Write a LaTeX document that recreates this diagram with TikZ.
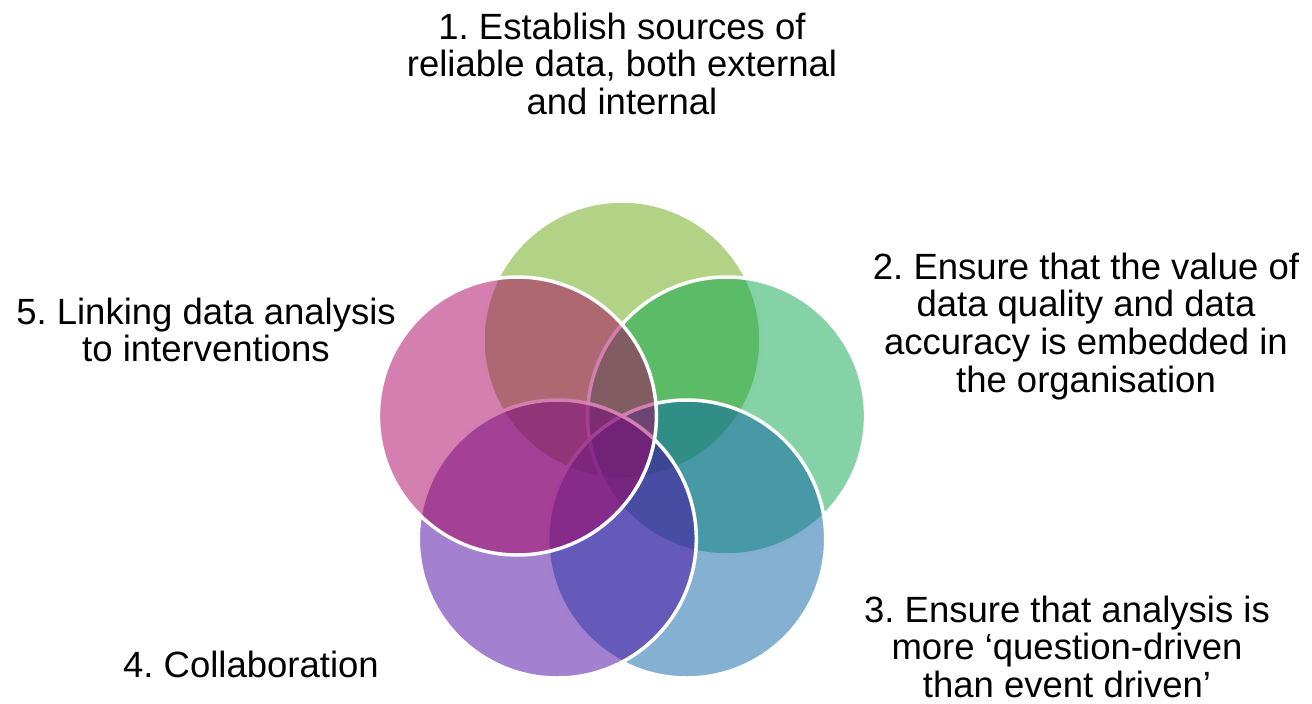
\documentclass[tikz,border=0pt]{standalone}
\usepackage{fontspec}
\setmainfont{Liberation Sans}
\frenchspacing
\definecolor{cA}{RGB}{101,167,11}
\definecolor{cB}{RGB}{9,165,75}
\definecolor{cC}{RGB}{9,97,165}
\definecolor{cD}{RGB}{71,3,161}
\definecolor{cE}{RGB}{169,0,95}
\tikzset{
  venn/.style={circle, minimum size=278pt, inner sep=0pt, fill opacity=0.5, draw opacity=1, draw=white, line width=3.5pt},
  lbl/.style={font=\fontsize{36.5}{37.5}\selectfont\frenchspacing, inner sep=0pt, anchor=base, text=black},
  lbltight/.style={lbl, font=\fontsize{36.5}{37}\selectfont\frenchspacing}
}
\begin{document}
\begin{tikzpicture}[x=1pt,y=-1pt]
\useasboundingbox (0,0) rectangle (1312,704);
\node[venn, fill=cA] (c1) at (622,340) {};
\node[venn, fill=cB] (c2) at (726.6,416) {};
\node[venn, fill=cC] (c3) at (686.7,539) {};
\node[venn, fill=cD] (c4) at (557.3,539) {};
\node[venn, fill=cE] (c5) at (517.4,416) {};
\node[lbl] (t1) at (622,39) {\begin{tabular}[t]{@{}c@{}}1. Establish sources of\\reliable data, both external\\and internal\end{tabular}};
\node[lbl] (t2) at (1086,279) {\begin{tabular}[t]{@{}c@{}}2. Ensure that the value of\\data quality and data\\accuracy is embedded in\\the organisation\end{tabular}};
\node[lbltight] (t3) at (1067,622) {\begin{tabular}[t]{@{}c@{}}3. Ensure that analysis is\\more ‘question-driven\\than event driven’\end{tabular}};
\node[lbl] (t4) at (251,677) {4. Collaboration};
\node[lbl] (t5) at (206,324) {\begin{tabular}[t]{@{}c@{}}5. Linking data analysis\\to interventions\end{tabular}};
\end{tikzpicture}
\end{document}
